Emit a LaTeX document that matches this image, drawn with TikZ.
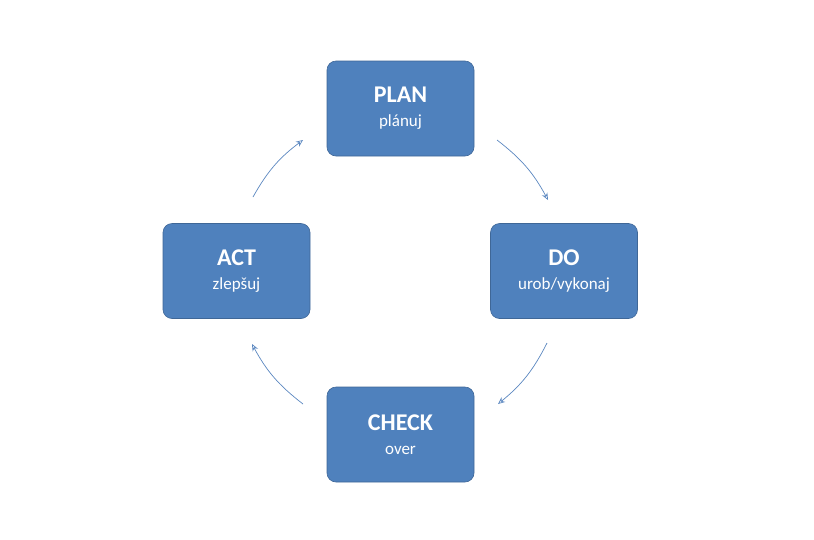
\documentclass[tikz,border=0pt]{standalone}
\usepackage{fontspec}
\setmainfont{Carlito}
\usetikzlibrary{arrows.meta}
\definecolor{boxblue}{HTML}{4F81BD}
\definecolor{arrblue}{HTML}{5B87C0}
\begin{document}
\begin{tikzpicture}[x=1pt,y=-1pt,
  pbox/.style={draw=boxblue!80!black,line width=0.6pt,fill=boxblue,rounded corners=9pt,minimum width=147pt,minimum height=95pt,text=white,align=center,inner sep=0pt},
  conn/.style={draw=arrblue,line width=0.7pt,-{Stealth[open,length=7pt,width=6pt]}}]
\useasboundingbox (0,0) rectangle (814,539);
\node[pbox] (plan) at (400.5,108.5) {{\fontsize{24}{26}\selectfont\bfseries PLAN}\\[12pt]{\fontsize{17}{19}\selectfont plánuj}};
\node[pbox] (do) at (564,271) {{\fontsize{24}{26}\selectfont\bfseries DO}\\[12pt]{\fontsize{17}{19}\selectfont urob/vykonaj}};
\node[pbox] (act) at (236.5,271) {{\fontsize{24}{26}\selectfont\bfseries ACT}\\[12pt]{\fontsize{17}{19}\selectfont zlepšuj}};
\node[pbox] (check) at (400.5,434.5) {{\fontsize{24}{26}\selectfont\bfseries CHECK}\\[12pt]{\fontsize{17}{19}\selectfont over}};
\coordinate (a1) at (497,140); \coordinate (a2) at (548,200);
\coordinate (b1) at (547,343); \coordinate (b2) at (498,404);
\coordinate (c1) at (303,404); \coordinate (c2) at (252,344);
\coordinate (d1) at (253,197); \coordinate (d2) at (303,140);
\draw[conn] (a1) to[bend left=12] (a2);
\draw[conn] (b1) to[bend left=12] (b2);
\draw[conn] (c1) to[bend left=12] (c2);
\draw[conn] (d1) to[bend left=12] (d2);
\end{tikzpicture}
\end{document}
